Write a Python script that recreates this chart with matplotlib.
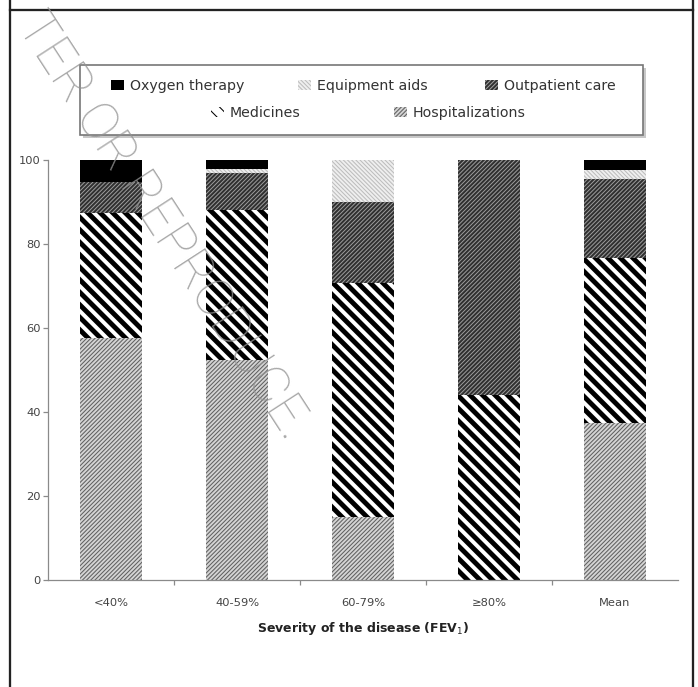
import matplotlib
matplotlib.use("Agg")
import matplotlib.pyplot as plt
import numpy as np
from matplotlib.patches import Rectangle
from matplotlib.lines import Line2D

# Data (percent of total cost)
groups = ["<40%", "40-59%", "60-79%", "\u226580%", "Mean"]
hospitalizations = [57.6, 52.4, 15.0, 0.0, 37.3]
medicines = [29.7, 35.7, 55.8, 44.0, 39.3]
outpatient_care = [7.5, 8.7, 19.3, 56.0, 18.8]
equipment_aids = [0.0, 1.0, 9.9, 0.0, 2.2]
oxygen_therapy = [5.2, 2.2, 0.0, 0.0, 2.4]

W, H, DPI = 698, 687, 75
plt.rcParams['font.family'] = ['DejaVu Sans']

fig = plt.figure(figsize=(W / DPI, H / DPI), dpi=DPI)
ax = fig.add_axes([48 / W, 1 - 580 / H, 630 / W, 420 / H])

x = np.arange(len(groups))
# (values, label, face, hatch, hatch colour, hatch linewidth)
series = [
    (hospitalizations, "Hospitalizations", "#d4d4d4", "//////", "#606060", 1.0),
    (medicines, "Medicines", "white", "\\\\", "black", 4.7),
    (outpatient_care, "Outpatient care", "#303030", "//////", "#a0a0a0", 0.9),
    (equipment_aids, "Equipment aids", "#efefef", "\\\\\\\\\\\\", "#bdbdbd", 1.0),
    (oxygen_therapy, "Oxygen therapy", "black", None, "black", 1.0),
]

bottom = np.zeros(len(groups))
handles = {}
for vals, label, face, hatch, hcol, hlw in series:
    with plt.rc_context({'hatch.linewidth': hlw}):
        bars = ax.bar(x, vals, 0.49, bottom=bottom, color=face, edgecolor=hcol,
                      linewidth=0, hatch=hatch, label=label)
    for p in bars:
        if hasattr(p, 'set_hatch_linewidth'):
            p.set_hatch_linewidth(hlw)
    handles[label] = bars[0]
    bottom += np.array(vals)

ax.set_xlim(-0.5, 4.5)
ax.set_ylim(0, 100)
for s in ['top', 'right']:
    ax.spines[s].set_visible(False)
for s in ['left', 'bottom']:
    ax.spines[s].set_color('#8a8a8a')
    ax.spines[s].set_linewidth(1.2)

ax.set_yticks(range(0, 101, 20))
ax.tick_params(axis='y', colors='#8a8a8a', labelcolor='#444444', labelsize=11,
               length=5, width=1.2, pad=2)
ax.set_xticks(x[:-1] + 0.5)
ax.set_xticklabels([])
ax.set_xticks(x, minor=True)
ax.set_xticklabels(groups, minor=True)
ax.tick_params(axis='x', which='major', colors='#8a8a8a', length=5, width=1.2)
ax.tick_params(axis='x', which='minor', length=0, labelcolor='#444444',
               labelsize=11, pad=17)
ax.set_xlabel("Severity of the disease (FEV$_1$)", fontsize=12,
              fontweight='bold', color='#222222', labelpad=12)

# legend box with a light shadow
fig.patches.append(Rectangle((83 / W, 1 - 138 / H), 563 / W, 70 / H,
                             transform=fig.transFigure, facecolor='#c8c8c8',
                             edgecolor='none', zorder=1))
fig.patches.append(Rectangle((80 / W, 1 - 135 / H), 563 / W, 70 / H,
                             transform=fig.transFigure, facecolor='white',
                             edgecolor='#777777', linewidth=1.6, zorder=2))

legend_spots = [
    ("Oxygen therapy", 111, 86),
    ("Equipment aids", 298, 86),
    ("Outpatient care", 485, 86),
    ("Medicines", 211, 113),
    ("Hospitalizations", 394, 113),
]
for label, lx, ly in legend_spots:
    fig.legend([handles[label]], [label], loc='center left',
               bbox_to_anchor=(lx / W, 1 - ly / H), frameon=False,
               borderpad=0, borderaxespad=0, fontsize=13.5,
               handlelength=0.9, handleheight=0.8, handletextpad=0.45,
               labelcolor='#333333')

# page frame
frame = dict(transform=fig.transFigure, color='#222222', linewidth=2.2)
fig.lines.append(Line2D([10 / W, 10 / W], [0, 1], **frame))
fig.lines.append(Line2D([693 / W, 693 / W], [0, 1], **frame))
fig.lines.append(Line2D([10 / W, 693 / W], [1 - 10 / H, 1 - 10 / H], **frame))

# watermark
fig.text(286 / W, 1 - 442 / H, "TER OR REPRODUCE.", rotation=-57,
         rotation_mode='anchor', ha='right', va='baseline', fontsize=50,
         family=['Roboto', 'DejaVu Sans'], fontweight='light',
         color='#939393', alpha=0.8, zorder=10)

fig.savefig("out.png", dpi=DPI)
